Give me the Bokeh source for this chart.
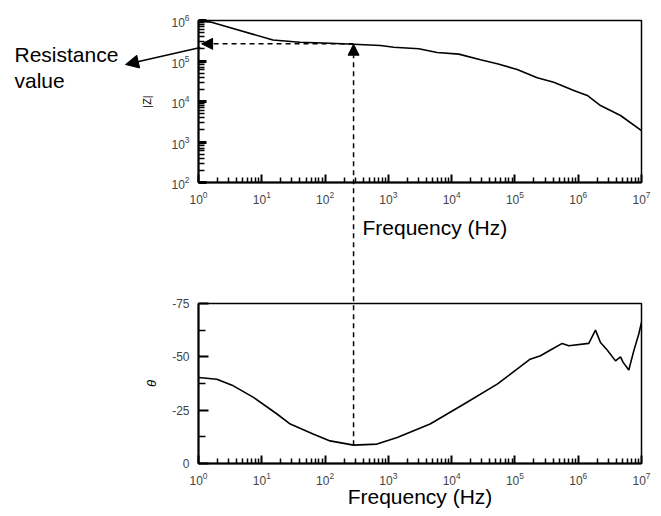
from bokeh.plotting import figure
from bokeh.layouts import column
from bokeh.models import Range1d, FixedTicker, Arrow, NormalHead, Label
from bokeh.embed import file_html
from bokeh.resources import INLINE

# |Z| vs frequency
freq_z = [1, 1.6, 15, 40, 120, 282, 751, 1219, 3027, 5916, 12970, 28560, 52480,
          108600, 224900, 411100, 851000, 1.39e6, 2.25e6, 4.66e6, 1e7]
z_mag = [9.6e5, 9.1e5, 3.3e5, 2.9e5, 2.75e5, 2.6e5, 2.42e5, 2.19e5, 2.0e5, 1.62e5,
         1.48e5, 1.07e5, 8.53e4, 6.17e4, 3.85e4, 3.0e4, 1.87e4, 1.41e4, 7.96e3,
         4.51e3, 1.9e3]

# phase vs frequency
freq_p = [1, 1.95, 3.55, 7.4, 17.4, 28.2, 64.6, 120, 282, 661, 1380, 4570, 15500,
          52500, 174000, 253500, 364800, 558500, 709600, 1.469e6, 1.875e6, 2.249e6,
          2.871e6, 3.882e6, 4.656e6, 5.129e6, 6.295e6, 7.551e6, 9.057e6, 1e7]
phase = [-40.3, -39.5, -36.4, -31.0, -23.2, -18.5, -13.8, -10.6, -8.6, -9.1, -12.2,
         -18.5, -27.8, -37.2, -48.9, -50.5, -53.2, -56.3, -55.2, -56.3, -62.5, -56.7,
         -53.2, -48.1, -50.0, -47.4, -43.8, -52.8, -60.7, -66.1]

x_major = [1, 1e1, 1e2, 1e3, 1e4, 1e5, 1e6, 1e7]
z_major = [1e2, 1e3, 1e4, 1e5, 1e6]
p_major = [0, -25, -50, -75]
p_minor = [-12.5, -37.5, -62.5]
p_labels = ["0", "-25", "-50", "-75"]

resistance = 2.65e5
f_mark = 282
phase_min = -8.6

FONT = "Liberation Sans"
x_minor = [m * 10 ** k for k in range(0, 7) for m in range(2, 10)]
z_minor = [m * 10 ** k for k in range(2, 6) for m in range(2, 10)]

# layout geometry (px)
W = 653
BL, BR = 198, 12
FW = W - BL - BR
TOP_H, TOP_BT, TOP_BB = 270, 20, 88
FH = TOP_H - TOP_BT - TOP_BB
BOT_H, BOT_BT, BOT_BB = 244, 33, 51
FH2 = BOT_H - BOT_BT - BOT_BB
H = TOP_H + BOT_H


def style(p, ylabel, ylabel_size):
    p.outline_line_color = "black"
    p.outline_line_width = 1.5
    p.grid.visible = False
    p.background_fill_color = "white"
    p.border_fill_color = "white"
    for ax in (p.xaxis[0], p.yaxis[0]):
        ax.axis_line_width = 2
        ax.major_tick_out = 0
        ax.minor_tick_out = 0
        ax.major_tick_line_width = 2
        ax.minor_tick_line_width = 1.5
        ax.major_label_text_font = FONT
        ax.major_label_text_font_size = "12px"
        ax.major_label_text_color = "#444444"
        ax.axis_label_text_font = FONT
        ax.axis_label_text_font_style = "normal"
        ax.axis_label_text_color = "black"
    p.xaxis.major_tick_in = 8
    p.xaxis.minor_tick_in = 5
    p.xaxis.axis_label_text_font_size = "21px"
    p.xaxis.major_label_standoff = 8
    p.yaxis.axis_label = ylabel
    p.yaxis.axis_label_text_font_size = ylabel_size
    p.yaxis.major_label_standoff = 9


top = figure(width=W, height=TOP_H, x_axis_type="log", y_axis_type="log",
             x_range=Range1d(1, 1e7), y_range=Range1d(1e2, 1e6),
             output_backend="svg", toolbar_location=None,
             min_border_left=BL, min_border_right=BR, min_border_top=TOP_BT,
             min_border_bottom=TOP_BB)
style(top, "|Z|", "11px")
top.xaxis.ticker = FixedTicker(ticks=x_major, minor_ticks=x_minor)
top.yaxis.ticker = FixedTicker(ticks=z_major, minor_ticks=z_minor)
top.yaxis.major_tick_in = 8
top.yaxis.minor_tick_in = 6
top.yaxis.major_tick_line_width = 3
top.yaxis.axis_label_standoff = 15
top.line(freq_z, z_mag, line_color="black", line_width=1.6)

bot = figure(width=W, height=BOT_H, x_axis_type="log",
             x_range=Range1d(1, 1e7), y_range=Range1d(0, -75),
             output_backend="svg", toolbar_location=None,
             min_border_left=BL, min_border_right=BR, min_border_top=BOT_BT,
             min_border_bottom=BOT_BB)
style(bot, "θ", "13px")
bot.xaxis.axis_label = "Frequency (Hz)"
bot.yaxis.axis_label_text_font_style = "italic"
bot.xaxis.ticker = FixedTicker(ticks=x_major, minor_ticks=x_minor)
bot.yaxis.ticker = FixedTicker(ticks=p_major, minor_ticks=p_minor)
bot.yaxis.major_label_overrides = dict(zip(p_major, p_labels))
bot.yaxis.major_tick_in = 10
bot.yaxis.minor_tick_in = 7
bot.xaxis.axis_label_standoff = -3
bot.yaxis.axis_label_standoff = 10
bot.line(freq_p, phase, line_color="black", line_width=1.6)

# transparent overlay spanning both panels, sharing the top panel's log scales
xdec = 7 / FW
ydec = 4 / FH


def ov_pt(px, py):
    """page pixel -> overlay data coordinates (top panel's log scales, extended)"""
    return 10 ** ((px - BL) * xdec), 10 ** (6 - (py - TOP_BT) * ydec)


x0, y0 = ov_pt(0, H)
x1, y1 = ov_pt(W, 0)
ov = figure(width=W, height=H, x_axis_type="log", y_axis_type="log",
            x_range=Range1d(x0, x1), y_range=Range1d(y0, y1),
            output_backend="svg", toolbar_location=None,
            x_axis_location=None, y_axis_location=None,
            min_border_left=0, min_border_right=0, min_border_top=0, min_border_bottom=0,
            outline_line_color=None, background_fill_alpha=0, border_fill_alpha=0,
            styles={"position": "absolute", "left": "0px", "top": "0px",
                    "pointer-events": "none"})
ov.grid.visible = False

# phase minimum expressed on the overlay's |Z| scale
py_min = TOP_H + BOT_BT + (phase_min + 75) / 75 * FH2
z_min = ov_pt(0, py_min)[1]

dash = "5 4"


def head(size=11):
    return NormalHead(size=size, fill_color="black", line_color="black", line_width=1)


ov.add_layout(Arrow(x_start=f_mark, y_start=resistance, x_end=1.12, y_end=resistance,
                    end=head(), line_dash=dash, line_width=1.5))
ov.add_layout(Arrow(x_start=f_mark, y_start=z_min, x_end=f_mark, y_end=resistance * 0.98,
                    end=head(), line_dash=dash, line_width=1.5))
ov.add_layout(Arrow(x_start=1.07, y_start=2.15e5, x_end=0.0703, y_end=8.2e4,
                    end=head(13), line_width=1.5))
lx, ly = ov_pt(14, 42)
ov.add_layout(Label(x=lx, y=ly, text="Resistance\nvalue", text_font=FONT,
                    text_font_size="21px", text_color="black", text_baseline="top",
                    text_line_height=1.16))
# x-axis title of the upper panel, set right of the dashed guide as in the original
fx, fy = ov_pt(362, 215)
ov.add_layout(Label(x=fx, y=fy, text="Frequency (Hz)", text_font=FONT,
                    text_font_size="21px", text_color="black",
                    text_baseline="top", text_align="left"))

layout = column(top, bot, spacing=0)
open("out.html", "w").write(file_html([layout, ov], INLINE))
